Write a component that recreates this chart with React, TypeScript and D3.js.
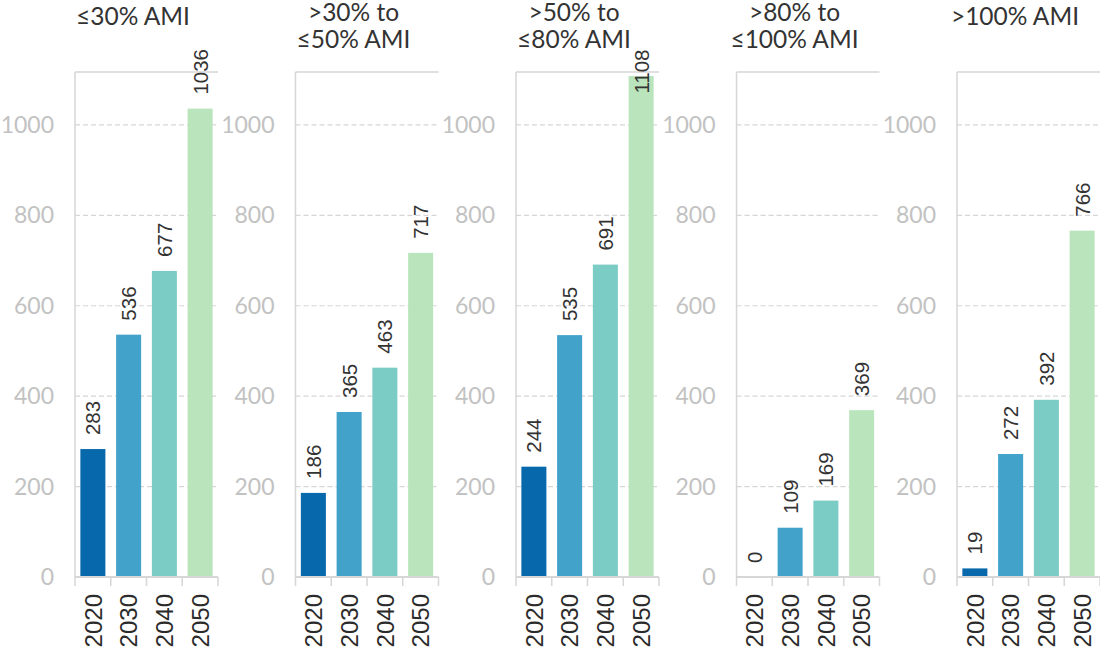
import React from 'react';
import * as d3 from 'd3';

const years = ['2020', '2030', '2040', '2050'];
const groupTitles = [
  ['≤30% AMI'],
  ['>30% to', '≤50% AMI'],
  ['>50% to', '≤80% AMI'],
  ['>80% to', '≤100% AMI'],
  ['>100% AMI'],
];
const lowest = [283, 186, 244, 0, 19];
const v2030 = [536, 365, 535, 109, 272];
const v2040 = [677, 463, 691, 169, 392];
const v2050 = [1036, 717, 1108, 369, 766];
const yTicks = [0, 200, 400, 600, 800, 1000];
const barColors = ['#0868ac', '#43a2ca', '#7bccc4', '#bae4bc'];

const W = 1100;
const H = 655;
const panelStep = 220.5;
const panelW = 143;
const firstLeft = 75;
const top = 72;
const bottom = 577;
const frameColor = '#d6d6d6';

const App: React.FC = () => {
  const y = d3.scaleLinear().domain([0, 1117]).range([bottom, top]);
  const x = d3.scaleBand<string>().domain(years).range([0, panelW]).paddingInner(0.3).paddingOuter(0.15);
  const color = d3.scaleOrdinal<string, string>().domain(years).range(barColors);

  const panels = groupTitles.map((title, i) => ({
    title,
    values: [lowest[i], v2030[i], v2040[i], v2050[i]],
  }));

  const edges = d3.range(years.length + 1).map((k) => k * (panelW / years.length));

  return (
    <svg width={W} height={H} style={{ position: 'absolute', left: 0, top: 0 }}>
      {panels.map((p, i) => {
        const left = firstLeft + i * panelStep;
        return (
          <g key={i} transform={`translate(${left},0)`}>
            {/* title */}
            <text
              x={58}
              textAnchor="middle"
              fontFamily="Lato, sans-serif"
              fontSize={24.5}
              fill="#333"
            >
              {p.title.length === 1 ? (
                <tspan x={58} y={25}>{p.title[0]}</tspan>
              ) : (
                p.title.map((t, j) => (
                  <tspan key={j} x={58} y={21 + j * 27}>{t}</tspan>
                ))
              )}
            </text>

            {/* gridlines */}
            {yTicks.filter((t) => t > 0).map((t) => (
              <line key={t} x1={0} x2={panelW} y1={y(t)} y2={y(t)}
                stroke={frameColor} strokeWidth={1.2} strokeDasharray="5,3" />
            ))}

            {/* y labels */}
            {yTicks.map((t) => (
              <text key={t} x={-21} y={y(t)} dy="0.35em" textAnchor="end"
                fontFamily="Lato, sans-serif" fontSize={23} fill="#c2c2c2">
                {t}
              </text>
            ))}

            {/* frame */}
            <line x1={0} x2={0} y1={top} y2={bottom} stroke={frameColor} strokeWidth={1.5} />
            <line x1={0} x2={panelW} y1={top} y2={top} stroke={frameColor} strokeWidth={1.5} />

            {/* bars */}
            {p.values.map((v, k) => (
              <rect key={k} x={x(years[k])} y={y(v)} width={x.bandwidth()}
                height={bottom - y(v)} fill={color(years[k])} />
            ))}

            {/* baseline + ticks */}
            <line x1={0} x2={panelW} y1={bottom} y2={bottom} stroke={frameColor} strokeWidth={2} />
            {edges.map((e, k) => (
              <line key={k} x1={e} x2={e} y1={bottom} y2={bottom + 9} stroke={frameColor} strokeWidth={1.5} />
            ))}

            {/* value labels */}
            {p.values.map((v, k) => {
              const cx = (x(years[k]) || 0) + x.bandwidth() / 2;
              const fs = 20.5;
              const len = String(v).length * 0.556 * fs;
              const start = Math.max(y(v) - 14, 48 + len);
              return (
                <text key={k} transform={`translate(${cx},${start}) rotate(-90)`}
                  dy="0.36em" fontFamily="'Liberation Sans', Arial, sans-serif"
                  fontSize={fs} fill="#333">
                  {v}
                </text>
              );
            })}

            {/* x labels */}
            {years.map((yr) => {
              const cx = (x(yr) || 0) + x.bandwidth() / 2;
              return (
                <text key={yr} transform={`translate(${cx},${bottom + 17}) rotate(-90)`}
                  dy="0.36em" textAnchor="end" fontFamily="'Liberation Sans', Arial, sans-serif"
                  fontSize={24} fill="#2b2b2b">
                  {yr}
                </text>
              );
            })}
          </g>
        );
      })}
    </svg>
  );
};

export default App;
